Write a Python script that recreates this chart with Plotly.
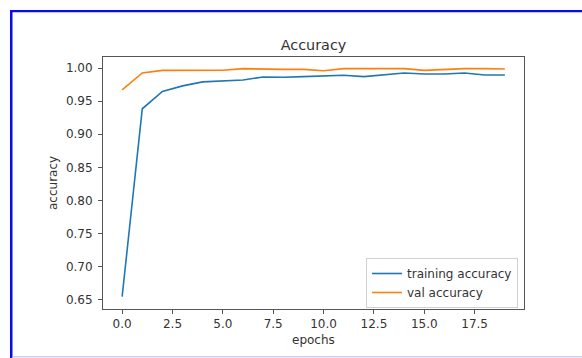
import plotly.graph_objects as go

# Per-epoch accuracy history
epochs = list(range(20))
train_acc = [0.655, 0.9385, 0.9647, 0.973, 0.979, 0.980, 0.982, 0.9864, 0.986, 0.987,
             0.988, 0.989, 0.987, 0.990, 0.9924, 0.991, 0.991, 0.9924, 0.9894, 0.9894]
val_acc = [0.967, 0.9925, 0.9964, 0.9964, 0.9964, 0.9966, 0.999, 0.998, 0.998, 0.998,
           0.9959, 0.999, 0.999, 0.9992, 0.999, 0.9964, 0.998, 0.999, 0.999, 0.9985]
x_ticks = [0.0, 2.5, 5.0, 7.5, 10.0, 12.5, 15.0, 17.5]
y_ticks = [0.65, 0.70, 0.75, 0.80, 0.85, 0.90, 0.95, 1.00]

W, H = 582, 358
L, R, T, B = 103, 524, 57, 309  # plot area in pixels
FONT = "DejaVu Sans"
TXT = "#333333"
AX = "#555555"


def px(x):
    return (x - L) / (R - L)


def py(y):
    return (B - y) / (B - T)


fig = go.Figure()
fig.add_trace(go.Scatter(x=epochs, y=train_acc, mode="lines", name="training accuracy",
                         line=dict(color="#1f77b4", width=1.6)))
fig.add_trace(go.Scatter(x=epochs, y=val_acc, mode="lines", name="val accuracy",
                         line=dict(color="#ff7f0e", width=1.6)))

axis_common = dict(showgrid=False, zeroline=False, showline=True, mirror=True,
                   linecolor=AX, linewidth=1, ticks="outside", ticklen=4,
                   tickcolor=AX, tickwidth=1,
                   tickfont=dict(family=FONT, size=12, color=TXT))

fig.update_xaxes(range=[-0.95, 19.95], tickvals=x_ticks,
                 ticktext=[f"{v:.1f}" for v in x_ticks], **axis_common)
fig.update_yaxes(range=[0.6364, 1.0166], tickvals=y_ticks,
                 ticktext=[f"{v:.2f}" for v in y_ticks], ticklabelstandoff=3,
                 **axis_common)

fig.update_layout(
    width=W, height=H,
    margin=dict(l=L, r=W - R, t=T, b=H - B, pad=0),
    paper_bgcolor="white", plot_bgcolor="white",
    title=dict(text="Accuracy", x=px((L + R) / 2), xref="paper", xanchor="center",
               y=1 - 45 / H, yref="container", yanchor="middle",
               font=dict(family=FONT, size=14.4, color=TXT)),
    showlegend=True,
    legend=dict(x=px(518), y=py(283), xanchor="right", yanchor="middle",
                bgcolor="white", bordercolor="#d0d0d0", borderwidth=1,
                font=dict(family=FONT, size=12, color=TXT),
                tracegroupgap=0, itemwidth=30),
    annotations=[
        dict(text="epochs", x=px((L + R) / 2), y=py(340), xref="paper", yref="paper",
             showarrow=False, xanchor="center", yanchor="middle",
             font=dict(family=FONT, size=12, color=TXT)),
        dict(text="accuracy", x=px(53), y=py(183), xref="paper", yref="paper",
             showarrow=False, xanchor="center", yanchor="middle", textangle=-90,
             font=dict(family=FONT, size=12, color=TXT)),
    ],
    shapes=[
        # blue frame: top and left edges
        dict(type="rect", xref="paper", yref="paper", x0=px(10), x1=px(W + 5),
             y0=py(12.3), y1=py(10), fillcolor="#0b0be8", line=dict(width=0), layer="above"),
        dict(type="rect", xref="paper", yref="paper", x0=px(10), x1=px(12.5),
             y0=py(H + 5), y1=py(10), fillcolor="#0b0be8", line=dict(width=0), layer="above"),
        # faint bottom rule
        dict(type="line", xref="paper", yref="paper", x0=px(12.5), x1=px(W + 5),
             y0=py(356.8), y1=py(356.8), line=dict(color="#cfcff3", width=1.5), layer="above"),
    ],
)

fig.write_html("out.html")
